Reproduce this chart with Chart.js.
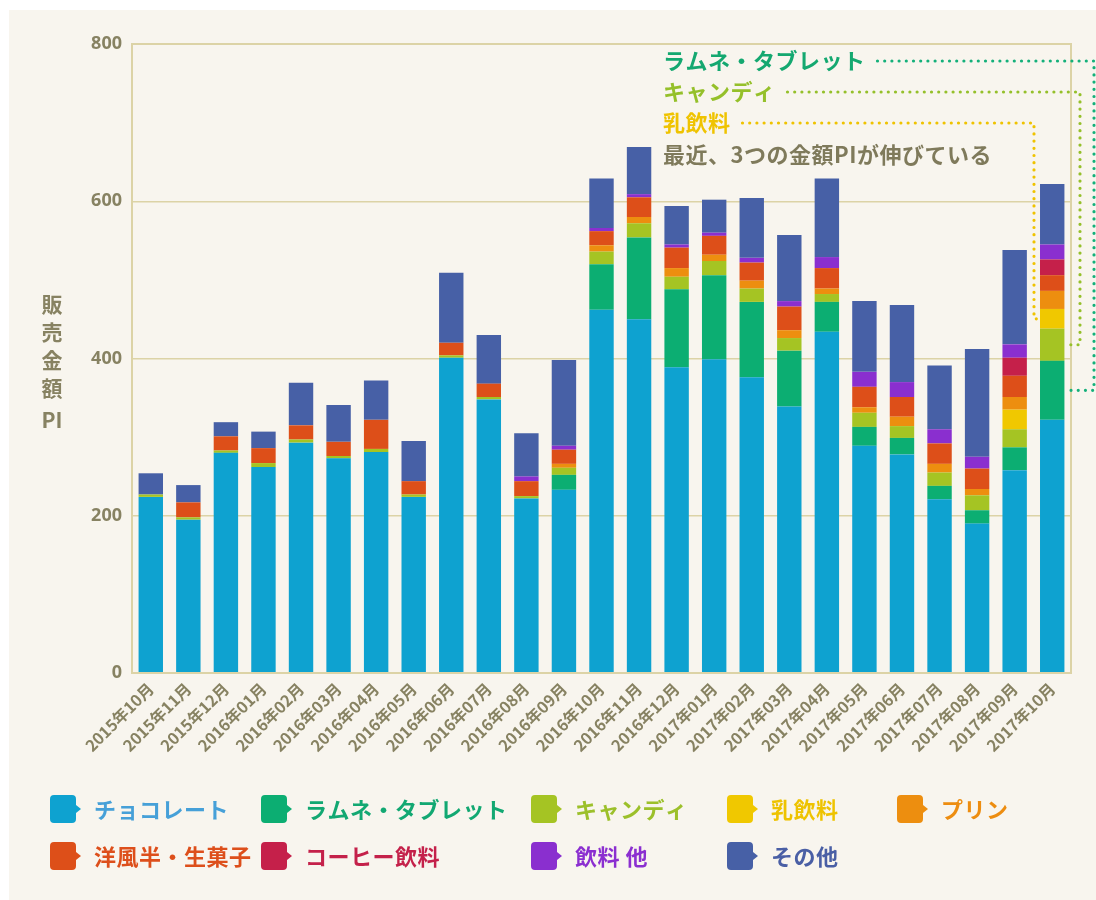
<!DOCTYPE html>
<html lang="ja">
<head>
<meta charset="utf-8">
<script src="https://cdn.jsdelivr.net/npm/chart.js@4.4.1/dist/chart.umd.min.js"></script>
<style>
html,body{margin:0;padding:0;background:#ffffff;}
#wrap{position:absolute;left:0;top:0;width:1096px;height:900px;}
</style>
</head>
<body>
<div id="wrap"><canvas id="c" width="1096" height="900"></canvas></div>
<script>
// ---- data ----
const months = ["2015年10月","2015年11月","2015年12月","2016年01月","2016年02月","2016年03月","2016年04月","2016年05月","2016年06月","2016年07月","2016年08月","2016年09月","2016年10月","2016年11月","2016年12月","2017年01月","2017年02月","2017年03月","2017年04月","2017年05月","2017年06月","2017年07月","2017年08月","2017年09月","2017年10月"];
const chocolate = [224,195,280,262,293,273,281,224,401,348,222,233,462,450,389,399,376,339,434,289,278,221,190,258,322];
const tablet    = [0,0,0,0,0,0,0,0,0,0,0,19,58,104,99,107,96,71,38,24,21,17,17,29,75];
const candy     = [3,3,3,5,4,3,4,3,3,3,3,9,16,18,16,18,17,16,10,18,15,17,19,23,41];
const milkDrink = [0,0,0,0,0,0,0,0,0,0,0,0,0,0,0,0,0,0,0,0,0,0,0,25,25];
const pudding   = [0,0,0,0,0,0,0,0,0,0,0,5,8,8,11,8,10,10,7,7,12,11,8,16,23];
const westernSweets = [0,19,18,19,18,18,37,17,16,17,19,18,18,25,26,24,23,30,26,26,25,26,26,27,20];
const coffee    = [0,0,0,0,0,0,0,0,0,0,0,0,0,0,0,0,0,0,0,0,0,0,0,23,20];
const otherDrinks = [0,0,0,0,0,0,0,0,0,0,6,5,4,4,4,4,6,7,14,19,19,18,15,17,19];
const others    = [27,22,18,21,54,47,50,51,89,62,55,109,63,60,49,42,76,84,100,90,98,81,137,120,77];
const yTicks = [0,200,400,600,800];

const seriesNames = ["チョコレート","ラムネ・タブレット","キャンディ","乳飲料","プリン","洋風半・生菓子","コーヒー飲料","飲料 他","その他"];
const seriesValues = [chocolate,tablet,candy,milkDrink,pudding,westernSweets,coffee,otherDrinks,others];
const seriesColors = ["#0ea2d0","#0cae72","#a5c423","#f0c800","#ed8e0f","#dd4f19","#c5204a","#8a2fcf","#4760a6"];
const legendTextColors = ["#46a0d8","#12a872","#9cc02a","#eec300","#ed8d10","#dd4f1b","#c4214a","#8b2fd0","#4a5fa5"];
const axisTitleChars = ["販","売","金","額","PI"];
const noteTablet = "ラムネ・タブレット";
const noteCandy = "キャンディ";
const noteMilk = "乳飲料";
const noteMain = "最近、3つの金額PIが伸びている";

const TEXT = "#878262";
const GRID = "#dcd3a6";
const JP = '"Noto Sans CJK JP", "Noto Sans", sans-serif';

const datasets = seriesNames.map((n,i)=>({
  label:n, data:seriesValues[i], backgroundColor:seriesColors[i],
  borderWidth:0, categoryPercentage:1.0, barPercentage:0.65
}));

// background panel
const panelPlugin = {
  id:'panel',
  beforeDraw(chart){
    const ctx = chart.ctx;
    ctx.save();
    ctx.fillStyle = "#f8f5ee";
    ctx.fillRect(9,10,1096-9,900-10);
    ctx.restore();
  }
};

// frame (top/right border) + axis title + annotations + legend
const decoPlugin = {
  id:'deco',
  afterDatasetsDraw(chart){
    const ctx = chart.ctx, a = chart.chartArea;
    ctx.save();
    ctx.strokeStyle = GRID; ctx.lineWidth = 2;
    ctx.strokeRect(a.left, a.top, a.right-a.left, a.bottom-a.top);
    ctx.restore();
  },
  afterDraw(chart){
    const ctx = chart.ctx, a = chart.chartArea;
    ctx.save();
    // y axis title (stacked)
    ctx.fillStyle = TEXT;
    ctx.font = 'bold 21px ' + JP;
    ctx.textAlign = 'center'; ctx.textBaseline = 'middle';
    const midY = (a.top + a.bottom)/2 + 2;
    const lh = 28;
    axisTitleChars.forEach((ch,i)=>{
      ctx.fillText(ch, 52, midY + (i - (axisTitleChars.length-1)/2)*lh + (i===4?4:0));
    });

    // annotations
    const last = months.length-1;
    const segMid = (di)=>{ const el = chart.getDatasetMeta(di).data[last]; return {y:(el.y+el.base)/2, left:el.x-el.width/2}; };
    ctx.font = 'bold 22px ' + JP;
    if ('letterSpacing' in ctx) ctx.letterSpacing = '0.5px';
    ctx.textAlign = 'left'; ctx.textBaseline = 'middle';
    const tx = 663;
    const notes = [
      {t:noteTablet, y:61, c:"#14a870"},
      {t:noteCandy, y:92, c:"#95c02a"},
      {t:noteMilk, y:123, c:"#efc300"},
      {t:noteMain, y:155, c:"#7f7a5b"}
    ];
    notes.forEach(n=>{ ctx.fillStyle=n.c; ctx.fillText(n.t, tx, n.y); });

    const dotted = (pts, color)=>{
      ctx.save();
      ctx.strokeStyle = color; ctx.lineWidth = 3.2; ctx.lineCap = 'round';
      ctx.setLineDash([0,7.2]);
      ctx.beginPath();
      ctx.moveTo(pts[0][0],pts[0][1]);
      for(let i=1;i<pts.length;i++) ctx.lineTo(pts[i][0],pts[i][1]);
      ctx.stroke();
      ctx.restore();
    };
    const w1 = ctx.measureText(noteTablet).width;
    const w2 = ctx.measureText(noteCandy).width;
    const w3 = ctx.measureText(noteMilk).width;
    const mT = segMid(1), mC = segMid(2), mM = segMid(3);
    dotted([[tx+w1+12,61],[1094,61],[1094,mT.y],[a.right-1,mT.y]], "#14b07a");
    dotted([[tx+w2+12,92],[1080,92],[1080,mC.y],[a.right-1,mC.y]], "#95c02a");
    dotted([[tx+w3+12,123],[1034,123],[1034,mM.y],[mM.left,mM.y]], "#efc300");

    // legend
    const legendPos = [[50,809],[261,809],[531,809],[727,809],[897,809],[50,856],[261,856],[531,856],[727,856]];
    ctx.font = 'bold 22px ' + JP;
    ctx.textBaseline = 'middle'; ctx.textAlign = 'left';
    chart.data.datasets.forEach((ds,i)=>{
      const [x,y] = legendPos[i];
      ctx.fillStyle = ds.backgroundColor;
      const w = 26, h = 28, r = 4, top = y - h/2;
      ctx.beginPath();
      ctx.moveTo(x+r, top);
      ctx.lineTo(x+w-r, top);
      ctx.quadraticCurveTo(x+w, top, x+w, top+r);
      ctx.lineTo(x+w, y-4);
      ctx.lineTo(x+w+5, y);
      ctx.lineTo(x+w, y+4);
      ctx.lineTo(x+w, top+h-r);
      ctx.quadraticCurveTo(x+w, top+h, x+w-r, top+h);
      ctx.lineTo(x+r, top+h);
      ctx.quadraticCurveTo(x, top+h, x, top+h-r);
      ctx.lineTo(x, top+r);
      ctx.quadraticCurveTo(x, top, x+r, top);
      ctx.closePath();
      ctx.fill();
      ctx.fillStyle = legendTextColors[i];
      ctx.fillText(ds.label, x+44, y+1);
    });
    if ('letterSpacing' in ctx) ctx.letterSpacing = '0px';
    ctx.restore();
  }
};

new Chart(document.getElementById('c'), {
  type:'bar',
  data:{ labels:months, datasets:datasets },
  options:{
    responsive:false,
    animation:false,
    layout:{ padding:{ left:0, top:44, right:25, bottom:0 } },
    plugins:{ legend:{display:false}, tooltip:{enabled:false}, title:{display:false} },
    scales:{
      x:{
        stacked:true,
        grid:{ display:false, drawTicks:false },
        border:{ display:true, color:GRID, width:2 },
        ticks:{ autoSkip:false, maxRotation:45, minRotation:45, padding:6,
          color:TEXT, font:{ family:'"Noto Sans CJK JP", "Noto Sans", sans-serif', size:16, weight:'bold' } },
        afterFit(s){ s.height = 227; }
      },
      y:{
        stacked:true, min:0, max:800,
        afterBuildTicks(s){ s.ticks = yTicks.map(v=>({value:v})); },
        grid:{ color:GRID, lineWidth:1.5, drawTicks:false },
        border:{ display:true, color:GRID, width:2 },
        ticks:{ padding:10, color:TEXT, font:{ family:'"Noto Sans", sans-serif', size:18, weight:'bold' } },
        afterFit(s){ s.width = 132; }
      }
    }
  },
  plugins:[panelPlugin, decoPlugin]
});
</script>
</body>
</html>
